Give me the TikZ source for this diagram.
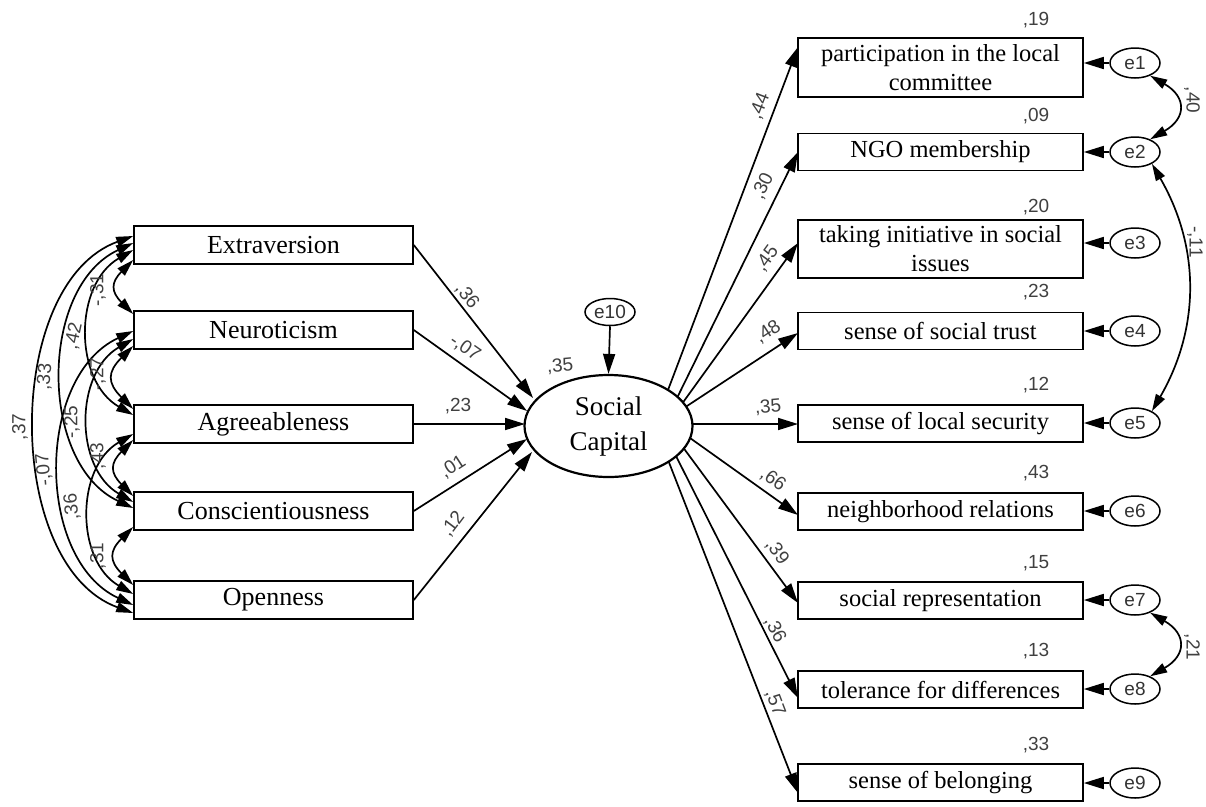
\documentclass[tikz,border=0pt]{standalone}
\usepackage{fontspec}
\setmainfont{Liberation Serif}
\newfontfamily\arialf{Liberation Sans}
\usetikzlibrary{arrows.meta,shapes.geometric,calc,backgrounds}
\begin{document}
\begin{tikzpicture}[x=1pt,y=-1pt,
  box/.style={draw, line width=1.6pt, inner sep=0pt, align=center},
  lbox/.style={box, minimum width=279pt, minimum height=38pt, font=\fontsize{26}{29}\selectfont},
  rbox/.style={box, minimum width=285pt, minimum height=37pt, font=\fontsize{24.5}{29}\selectfont},
  err/.style={draw, ellipse, line width=1.5pt, minimum width=50pt, minimum height=30pt, inner sep=0pt, font=\arialf\fontsize{19}{19}\selectfont, text=black!80},
  arr/.style={line width=1.7pt, -{Triangle[length=20pt,width=12pt]}},
  cov/.style={line width=1.7pt, {Triangle[length=17pt,width=10pt]}-{Triangle[length=17pt,width=10pt]}},
  num/.style={font=\arialf\fontsize{19}{19}\selectfont, text=black!75, inner sep=0pt},
]
\useasboundingbox (0,0) rectangle (1206,806);
% ---------- left observed variables
\node[lbox] (E) at (273.5,245) {Extraversion};
\node[lbox] (N) at (273.5,330) {Neuroticism};
\node[lbox] (A) at (273.5,424) {Agreeableness};
\node[lbox] (C) at (273.5,511) {Conscientiousness};
\node[lbox] (O) at (273.5,600) {Openness};
% ---------- latent
\node[draw, ellipse, line width=2.2pt, fill=white, minimum width=168pt, minimum height=102pt, inner sep=0pt, align=center, font=\fontsize{27}{35}\selectfont] (SC) at (608.5,426) {Social\\Capital};
\node[err, minimum height=27pt] (e10) at (610,312) {e10};
% ---------- right observed variables
\node[rbox, minimum height=59pt] (r1) at (940.5,67.5) {participation in the local\\committee};
\node[rbox] (r2) at (940.5,152) {NGO membership};
\node[rbox, minimum height=58pt] (r3) at (940.5,249) {taking initiative in social\\issues};
\node[rbox] (r4) at (940.5,331) {sense of social trust};
\node[rbox] (r5) at (940.5,423.5) {sense of local security};
\node[rbox] (r6) at (940.5,511.5) {neighborhood relations};
\node[rbox] (r7) at (940.5,600.5) {social representation};
\node[rbox] (r8) at (940.5,689.5) {tolerance for differences};
\node[rbox] (r9) at (940.5,782.5) {sense of belonging};
% ---------- errors
\node[err] (e1) at (1135,63) {e1};
\node[err] (e2) at (1135,152) {e2};
\node[err] (e3) at (1135,243) {e3};
\node[err] (e4) at (1135,331) {e4};
\node[err] (e5) at (1135,423) {e5};
\node[err] (e6) at (1135,511) {e6};
\node[err] (e7) at (1135,600) {e7};
\node[err] (e8) at (1135,689) {e8};
\node[err] (e9) at (1135,783) {e9};
% ---------- coordinates
\coordinate (tE) at (533,398);
\coordinate (tN) at (527,411);
\coordinate (tA) at (525,424);
\coordinate (tC) at (527,439);
\coordinate (tO) at (532,452);
\coordinate (s1) at (668,390); \coordinate (t1) at (798,47);
\coordinate (s2) at (676,400); \coordinate (t2) at (798,152);
\coordinate (s3) at (684,401); \coordinate (t3) at (798,243);
\coordinate (s4) at (687,406); \coordinate (t4) at (798,333);
\coordinate (s5) at (690,424); \coordinate (t5) at (798,424);
\coordinate (s6) at (690,438); \coordinate (t6) at (798,515);
\coordinate (s7) at (685,450); \coordinate (t7) at (798,603);
\coordinate (s8) at (677,458); \coordinate (t8) at (798,698);
\coordinate (s9) at (670,465); \coordinate (t9) at (798,793);
% ---------- background layer: white + outgoing paths
\begin{pgfonlayer}{background}
\fill[white] (0,0) rectangle (1206,806);
\foreach \i in {1,...,9}{
  \draw[arr] ($(s\i)!-15pt!(t\i)$) -- (t\i);
}
\end{pgfonlayer}
% ---------- incoming paths
\draw[arr] (E.east) -- (tE);
\draw[arr] (N.east) -- (tN);
\draw[arr] (A.east) -- (tA);
\draw[arr] (C.east) -- (tC);
\draw[arr] (O.east) -- (tO);
\draw[arr] (e10.south) -- (SC.north);
% ---------- error arrows
\foreach \i in {1,...,9}{
  \draw[arr] (e\i.west) -- (e\i.west -| r\i.east);
}
% ---------- left covariances
\draw[cov] ([yshift=9pt]E.west) to[out=200,in=160,looseness=0.94] ([yshift=-13pt]O.west);
\draw[cov] ([yshift=2pt]E.west) to[out=205,in=155,looseness=1.01] ([yshift=3pt]C.west);
\draw[cov] ([yshift=-5pt]E.west) to[out=210,in=150,looseness=1.07] ([yshift=9pt]A.west);
\draw[cov] ([yshift=-15pt]E.west) to[out=225,in=135,looseness=1.5] ([yshift=16pt]N.west);
\draw[cov] ([yshift=-1pt]N.west) to[out=205,in=155,looseness=1.01] ([yshift=-5pt]O.west);
\draw[cov] ([yshift=-9pt]N.west) to[out=210,in=150,looseness=1.07] ([yshift=9pt]C.west);
\draw[cov] ([yshift=-16pt]N.west) to[out=225,in=135,looseness=1.5] ([yshift=15pt]A.west);
\draw[cov] ([yshift=-10pt]A.west) to[out=210,in=150,looseness=1.07] ([yshift=6pt]O.west);
\draw[cov] ([yshift=-16pt]A.west) to[out=225,in=135,looseness=1.5] ([yshift=15pt]C.west);
\draw[cov] ([yshift=-16pt]C.west) to[out=225,in=135,looseness=1.5] ([yshift=15pt]O.west);
% ---------- right covariances
\draw[cov] (e1.-40) to[out=330,in=30,looseness=1.7] (e2.40);
\draw[cov] (e2.-35) to[out=300,in=60,looseness=1] (e5.35);
\draw[cov] (e7.-40) to[out=330,in=30,looseness=1.7] (e8.40);
% ---------- left covariance labels
\node[num, rotate=90] (c1) at (20,427) {,37};
\node[num, rotate=85] (c2) at (45,377) {,33};
\node[num, rotate=78] (c3) at (74,336) {,42};
\node[num, rotate=90] (c4) at (98,290) {-,31};
\node[num, rotate=90] (c5) at (98,374) {-,27};
\node[num, rotate=90] (c6) at (72,422) {-,25};
\node[num, rotate=95] (c7) at (44,470) {-,07};
\node[num, rotate=90] (c8) at (98,456) {,43};
\node[num, rotate=95] (c9) at (72,507) {,36};
\node[num, rotate=90] (c10) at (98,556) {,31};
% ---------- right covariance labels
\node[num, rotate=-90] (c11) at (1192,100) {,40};
\node[num, rotate=-90] (c12) at (1195,242) {-,11};
\node[num, rotate=-90] (c13) at (1192,647) {,21};
% ---------- path labels (left)
\node[num, rotate=-52] (p1) at (467,296) {,36};
\node[num, rotate=-35] (p2) at (465,348) {-,07};
\node[num] (p3) at (458,406) {,23};
\node[num, rotate=33] (p4) at (453,467) {,01};
\node[num, rotate=53] (p5) at (453,524) {,12};
\node[num, rotate=5] (p0) at (560,366) {,35};
% ---------- path labels (right)
\node[num, rotate=69] (q1) at (760,106) {,44};
\node[num, rotate=64] (q2) at (763,186) {,30};
\node[num, rotate=54] (q3) at (767,259) {,45};
\node[num, rotate=33] (q4) at (768,332) {,48};
\node[num, rotate=5] (q5) at (768,407) {,35};
\node[num, rotate=-36] (q6) at (773,480) {,66};
\node[num, rotate=-54] (q7) at (777,552) {,39};
\node[num, rotate=-63] (q8) at (775,630) {,36};
\node[num, rotate=-69] (q9) at (775,703) {,57};
% ---------- R-squared labels
\node[num] (v1) at (1036,20) {,19};
\node[num] (v2) at (1036,116) {,09};
\node[num] (v3) at (1036,207) {,20};
\node[num] (v4) at (1036,292) {,23};
\node[num] (v5) at (1036,385) {,12};
\node[num] (v6) at (1036,473) {,43};
\node[num] (v7) at (1036,563) {,15};
\node[num] (v8) at (1036,651) {,13};
\node[num] (v9) at (1036,745) {,33};
\end{tikzpicture}
\end{document}
